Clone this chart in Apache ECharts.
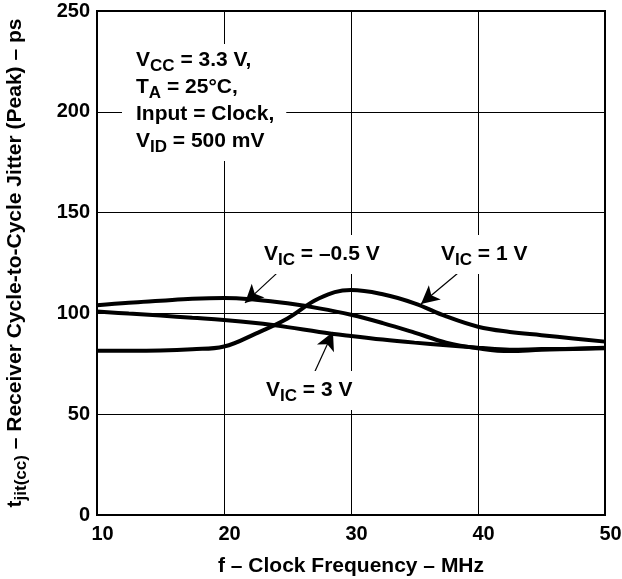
<!DOCTYPE html>
<html>
<head>
<meta charset="utf-8">
<script src="https://cdn.jsdelivr.net/npm/echarts@6/dist/echarts.min.js"></script>
<style>
  html, body { margin: 0; padding: 0; background: #fff; }
  #chart { width: 622px; height: 579px; }
</style>
</head>
<body>
<div id="chart"></div>
<script>
// clock frequency, MHz
const freq = [10, 12.5, 15, 17.5, 20, 22.5, 25, 27.5, 30, 32.5, 35, 37.5, 40, 42.5, 45, 47.5, 50]
// peak jitter, ps
const vicNeg05 = [104, 105.3, 106.3, 107.3, 107.7, 106.8, 105, 102.5, 99.3, 95.2, 90.5, 85.5, 82.7, 81.3, 82, 82.3, 82.7]
const vic1 = [81.5, 81.5, 81.6, 82.2, 83.6, 90, 97.5, 107.5, 111.6, 109.5, 105, 98.5, 93.4, 90.8, 89.2, 87.6, 86]
const vic3 = [100.9, 99.9, 98.9, 97.8, 96.7, 95.2, 93.2, 90.8, 88.8, 87, 85.5, 84.2, 83, 82, 82.3, 82.5, 83]

// label arrows: [from, to] in data units
const arrows = [
  [[24.17, 120], [21.65, 105.2]],
  [[38.43, 120], [35.51, 104.7]],
  [[26.85, 67], [28.58, 90.8]]
]

const FONT = 'Liberation Sans, Arial, sans-serif'
const rich = {
  m: { fontFamily: FONT, fontWeight: 'bold', fontSize: 21, color: '#000' },
  s: { fontFamily: FONT, fontWeight: 'bold', fontSize: 17, color: '#000', padding: [12, 0, 0, 0] }
}

const pairs = ys => freq.map((f, i) => [f, ys[i]])

const lineSeries = (name, ys) => ({
  name,
  type: 'line',
  data: pairs(ys),
  smooth: 0.4,
  symbol: 'none',
  lineStyle: { color: '#000', width: 4 },
  z: 3
})

const chart = echarts.init(document.getElementById('chart'))

const labelText = (left, top, text, pad) => ({
  type: 'text',
  left,
  top,
  z: 10,
  style: {
    text,
    rich,
    backgroundColor: '#fff',
    padding: pad,
    lineHeight: 27
  }
})

chart.setOption({
  animation: false,
  grid: {
    left: 97, right: 17, top: 11, bottom: 64,
    outerBoundsMode: 'none',
    containLabel: false,
    show: true, borderColor: '#000', borderWidth: 2
  },
  xAxis: {
    type: 'value',
    min: 10, max: 50, interval: 10,
    name: 'f – Clock Frequency – MHz',
    nameLocation: 'middle',
    nameGap: 41,
    nameTextStyle: { fontFamily: FONT, fontWeight: 'bold', fontSize: 21, color: '#000' },
    axisLine: { show: false },
    axisTick: { show: false },
    axisLabel: { margin: 9, fontFamily: FONT, fontWeight: 'bold', fontSize: 20, color: '#000', padding: [0, 0, 0, 11] },
    splitLine: { lineStyle: { color: '#000', width: 1 } }
  },
  yAxis: {
    type: 'value',
    min: 0, max: 250, interval: 50,
    name: '{m|t}{s|jit(cc)}{m| – Receiver Cycle-to-Cycle Jitter (Peak) – ps}',
    nameLocation: 'middle',
    nameGap: 67,
    nameTextStyle: { rich },
    axisLine: { show: false },
    axisTick: { show: false },
    axisLabel: { margin: 7, fontFamily: FONT, fontWeight: 'bold', fontSize: 20, color: '#000' },
    splitLine: { lineStyle: { color: '#000', width: 1 } }
  },
  series: [
    lineSeries('VIC = -0.5 V', vicNeg05),
    lineSeries('VIC = 1 V', vic1),
    {
      ...lineSeries('VIC = 3 V', vic3),
      markLine: {
        silent: true,
        symbol: ['none', 'arrow'],
        symbolSize: [14, 18],
        label: { show: false },
        lineStyle: { color: '#000', width: 1.2, type: 'solid' },
        data: arrows.map(a => [{ coord: a[0] }, { coord: a[1] }])
      }
    }
  ],
  graphic: [
    labelText(122, 44,
      '{m|V}{s|CC}{m| = 3.3 V,}\n{m|T}{s|A}{m| = 25°C,}\n{m|Input = Clock,}\n{m|V}{s|ID}{m| = 500 mV}',
      [3, 12, 6, 14]),
    labelText(258, 235, '{m|V}{s|IC}{m| = –0.5 V}', [6, 6, 6, 6]),
    labelText(435, 235, '{m|V}{s|IC}{m| = 1 V}', [6, 6, 6, 6]),
    labelText(260, 371, '{m|V}{s|IC}{m| = 3 V}', [6, 6, 6, 6])
  ]
})
</script>
</body>
</html>
